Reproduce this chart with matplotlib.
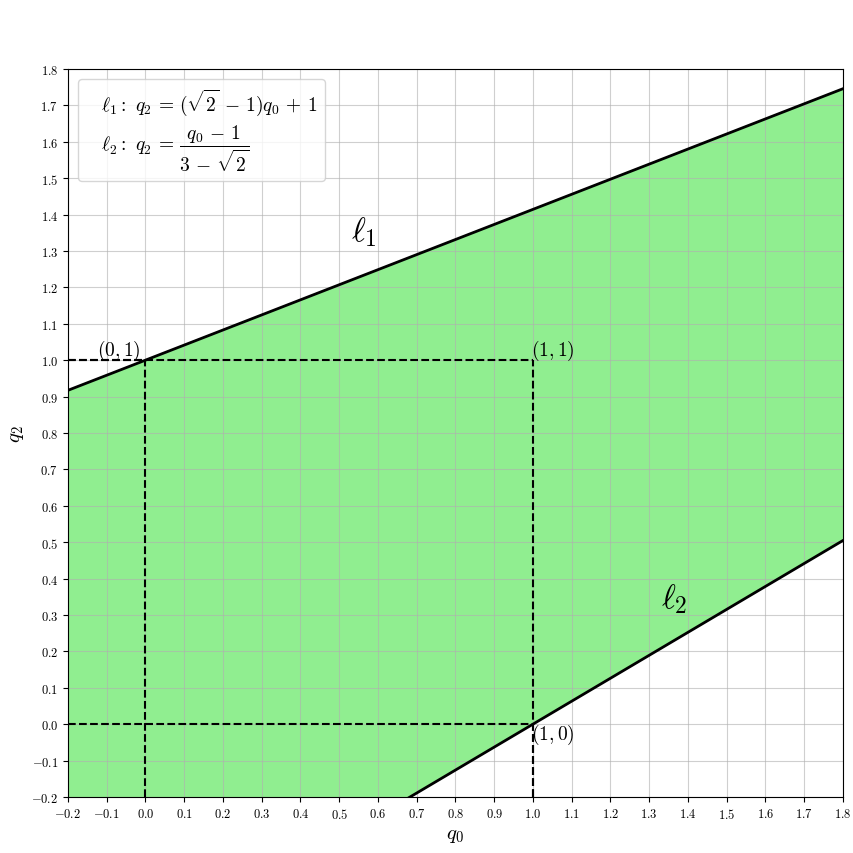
"""
Region between two lines l1 and l2 in the (q0, q2) plane
"""

import numpy as np
from matplotlib import pyplot as plt
from matplotlib.lines import Line2D


# constants
SQ2 = np.sqrt(2)
X_LIM = [-0.2, 1.8]
Y_LIM = [-0.2, 1.8]
TICKS = np.round(np.arange(-0.2, 1.81, 0.1), 1)

# corner points of the unit square
SQUARE_X = [0.0, 1.0, 1.0]
SQUARE_Y = [1.0, 1.0, 0.0]
POINT_LABELS = ['$(0,1)$', '$(1,1)$', '$(1,0)$']

LEGEND_TEXT = [r'$\ell_1:\ q_2 \,=\, (\sqrt{2}\,-\,1)q_0 \,+\, 1$',
               r'$\ell_2:\ q_2 \,=\, \dfrac{q_0 \,-\, 1}{3 \,-\, \sqrt{2}}$']


def line1(q0):
    return (SQ2 - 1) * q0 + 1


def line2(q0):
    return (q0 - 1) / (3 - SQ2)


def make_plot():
    plt.rcParams['font.family'] = 'serif'
    plt.rcParams['font.serif'] = ['cmr10']
    plt.rcParams['mathtext.fontset'] = 'cm'
    plt.rcParams['axes.formatter.use_mathtext'] = True

    fig = plt.figure(figsize=(8.54, 8.54), dpi=100)
    ax = fig.add_axes([0.0796, 0.0656, 0.9074, 0.8525])

    q0 = np.linspace(X_LIM[0], X_LIM[1], 200)
    ax.fill_between(q0, line2(q0), line1(q0), color='lightgreen')
    ax.plot(q0, line1(q0), color='k', lw=2)
    ax.plot(q0, line2(q0), color='k', lw=2)

    # dashed guides to the square corners
    for x, y in zip(SQUARE_X, SQUARE_Y):
        ax.plot([X_LIM[0], x], [y, y], 'k--', lw=1.5)
        ax.plot([x, x], [Y_LIM[0], y], 'k--', lw=1.5)

    ax.text(-0.125, 0.995, POINT_LABELS[0], fontsize=14, ha='left', va='bottom')
    ax.text(0.995, 0.995, POINT_LABELS[1], fontsize=14, ha='left', va='bottom')
    ax.text(0.995, 0.005, POINT_LABELS[2], fontsize=14, ha='left', va='top')

    ax.text(0.53, 1.33, r'$\ell_1$', fontsize=24)
    ax.text(1.33, 0.32, r'$\ell_2$', fontsize=24)

    handles = [Line2D([], [], alpha=0) for _ in LEGEND_TEXT]
    ax.legend(handles, LEGEND_TEXT, loc='upper left', fontsize=14,
              handlelength=0.5, handletextpad=0.3, borderpad=0.4,
              labelspacing=0.3)

    ax.set_xlim(X_LIM)
    ax.set_ylim(Y_LIM)
    ax.set_xticks(TICKS)
    ax.set_yticks(TICKS)
    ax.tick_params(labelsize=9)
    ax.grid(color='#b0b0b0', alpha=0.6)
    ax.set_xlabel('$q_0$', fontsize=15)
    ax.set_ylabel('$q_2$', fontsize=15)

    fig.savefig('out.png')


if __name__ == '__main__':
    make_plot()
